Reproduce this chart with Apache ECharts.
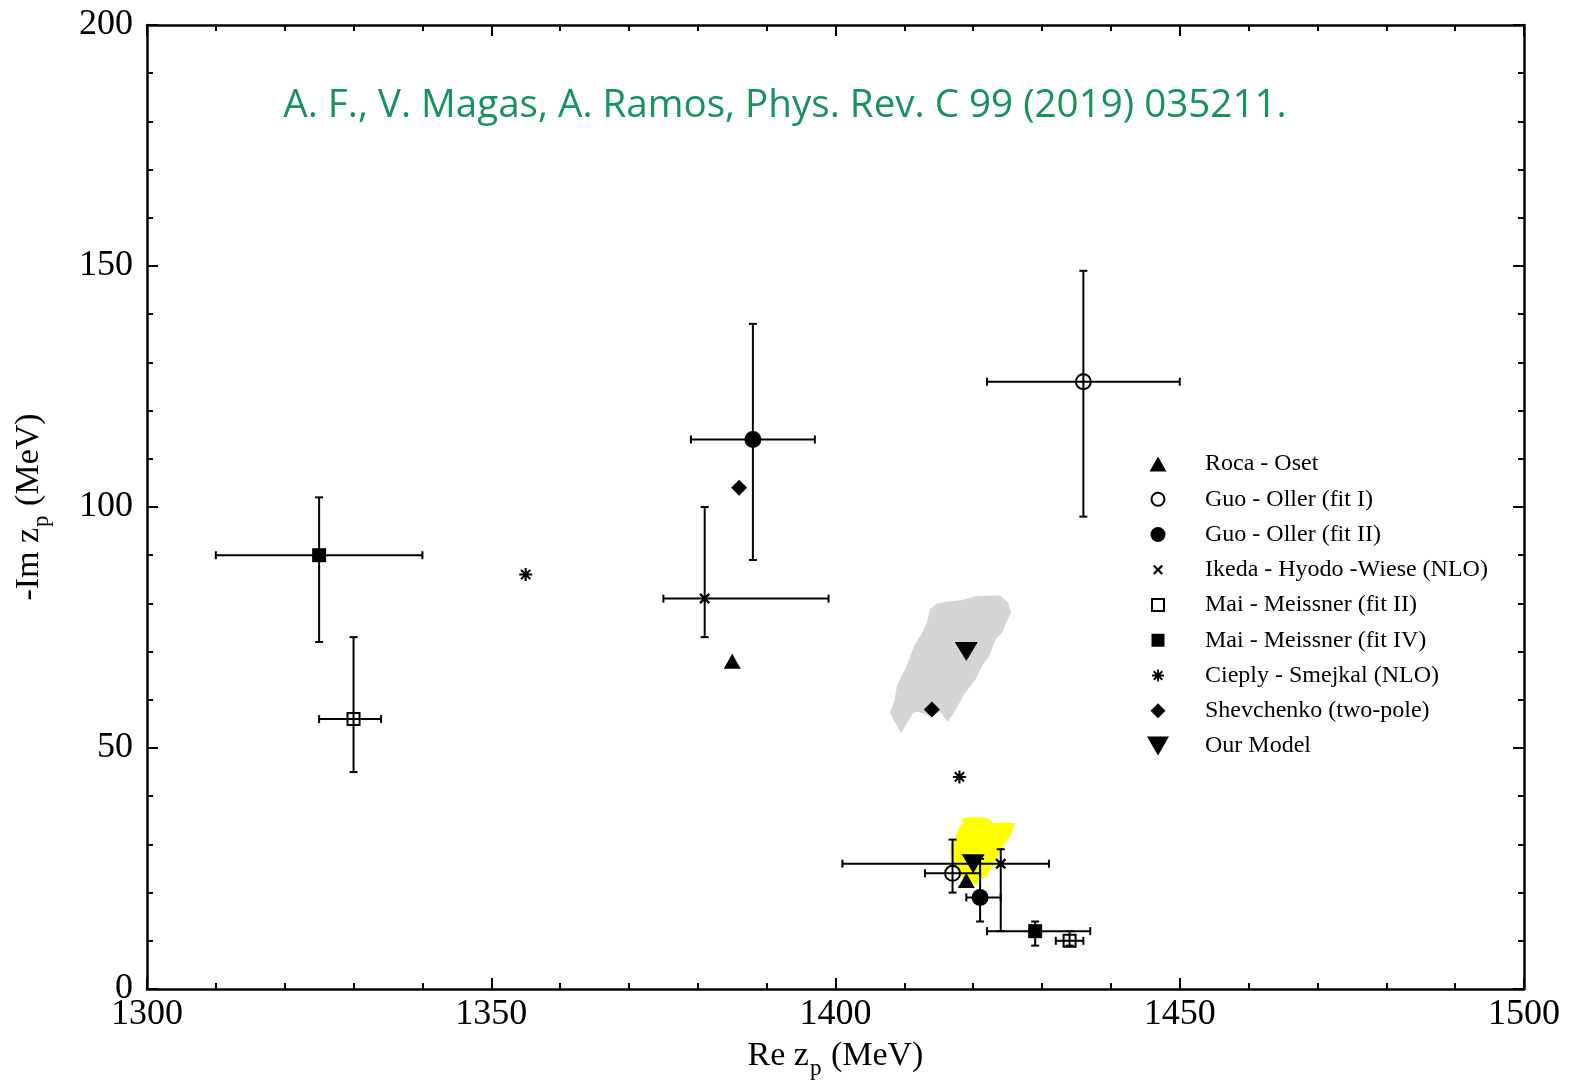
<!DOCTYPE html>
<html>
<head>
<meta charset="utf-8">
<script src="https://cdn.jsdelivr.net/npm/echarts@6/dist/echarts.min.js"></script>
<style>
html, body { margin: 0; padding: 0; background: #fff; }
#chart { width: 1570px; height: 1090px; }
</style>
</head>
<body>
<div id="chart"></div>
<script>
// Pole positions [Re z_p, -Im z_p] in MeV (two poles per model)
const rocaOset = [[1385, 68], [1419, 22.5]];
const guoOllerFit1 = [[1436, 126], [1417, 24]];
const guoOllerFit2 = [[1388, 114], [1421, 19]];
const ikedaHyodoWiese = [[1381, 81], [1424, 26]];
const maiMeissnerFit2 = [[1330, 56], [1434, 10]];
const maiMeissnerFit4 = [[1325, 90], [1429, 12]];
const cieplySmejkal = [[1355, 86], [1418, 44]];
const shevchenko = [[1386, 104], [1414, 58]];
const ourModel = [[1419, 70], [1420, 26]];

// Asymmetric uncertainties [Re minus, Re plus, Im minus, Im plus]
const guoOllerFit1Err = [[14, 14, 28, 23], [4, 4, 4, 7]];
const guoOllerFit2Err = [[9, 9, 25, 24], [2, 3, 5, 8]];
const ikedaHyodoWieseErr = [[6, 18, 8, 19], [23, 7, 14, 3]];
const maiMeissnerFit2Err = [[5, 4, 11, 17], [2, 2, 1, 2]];
const maiMeissnerFit4Err = [[15, 15, 18, 12], [7, 8, 3, 2]];

// Outlines of the pole scatter regions of our model [Re, -Im]
const grayRegion = [
  [1413.7, 78.8], [1414.7, 80.0], [1415.9, 80.3], [1418.5, 80.7], [1420.3, 81.5],
  [1423.9, 81.7], [1425.1, 80.1], [1425.5, 78.0], [1424.8, 76.1], [1424.3, 74.1],
  [1423.2, 72.4], [1422.4, 69.3], [1421.3, 67.0], [1420.3, 64.1], [1418.8, 61.4],
  [1417.6, 58.3], [1416.3, 55.4], [1415.2, 57.5], [1413.7, 56.6], [1412.0, 57.5],
  [1411.3, 57.3], [1409.5, 53.1], [1407.9, 57.3], [1408.6, 60.0], [1408.9, 62.7],
  [1409.5, 64.7], [1410.2, 66.6], [1410.8, 68.9], [1411.5, 71.4], [1412.6, 73.9],
  [1413.3, 76.1]
];
const yellowRegion = [
  [1418.4, 34.4], [1418.5, 35.5], [1420.3, 35.7], [1422.0, 35.5], [1422.9, 34.4],
  [1424.3, 34.6], [1426.1, 34.4], [1425.3, 31.5], [1424.3, 29.7], [1423.9, 28.4],
  [1422.9, 25.5], [1421.7, 23.2], [1420.3, 21.6], [1418.8, 22.2], [1417.8, 24.7],
  [1416.9, 27.2], [1416.6, 29.3], [1417.4, 31.3], [1417.8, 33.0]
];

const xTicks = { min: 1300, max: 1500, step: 50 };
const yTicks = { min: 0, max: 200, step: 50 };

const legendNames = ['Roca - Oset', 'Guo - Oller (fit I)', 'Guo - Oller (fit II)',
  'Ikeda - Hyodo -Wiese (NLO)', 'Mai - Meissner (fit II)', 'Mai - Meissner (fit IV)',
  'Cieply - Smejkal (NLO)', 'Shevchenko (two-pole)', 'Our Model'];

const SERIF = '"Liberation Serif", "DejaVu Serif", serif';

function withErrors(points, errs) {
  return points.map((p, i) => [p[0], p[1]].concat(errs[i]));
}
const errorData = [].concat(
  withErrors(guoOllerFit1, guoOllerFit1Err),
  withErrors(guoOllerFit2, guoOllerFit2Err),
  withErrors(ikedaHyodoWiese, ikedaHyodoWieseErr),
  withErrors(maiMeissnerFit2, maiMeissnerFit2Err),
  withErrors(maiMeissnerFit4, maiMeissnerFit4Err)
);

function renderErrorBar(params, api) {
  const x = api.value(0), y = api.value(1);
  const c = api.coord([x, y]);
  const l = api.coord([x - api.value(2), y]);
  const r = api.coord([x + api.value(3), y]);
  const b = api.coord([x, y - api.value(4)]);
  const t = api.coord([x, y + api.value(5)]);
  const cap = 4;
  const style = { stroke: '#000', lineWidth: 2 };
  const seg = (x1, y1, x2, y2) => ({ type: 'line', shape: { x1, y1, x2, y2 }, style });
  return {
    type: 'group',
    children: [
      seg(l[0], c[1], r[0], c[1]),
      seg(l[0], c[1] - cap, l[0], c[1] + cap),
      seg(r[0], c[1] - cap, r[0], c[1] + cap),
      seg(c[0], b[1], c[0], t[1]),
      seg(c[0] - cap, b[1], c[0] + cap, b[1]),
      seg(c[0] - cap, t[1], c[0] + cap, t[1])
    ]
  };
}

function regionSeries(outline, color) {
  return {
    type: 'custom',
    z: 1,
    silent: true,
    data: [outline[0]],
    renderItem: (params, api) => ({
      type: 'polygon',
      shape: { points: outline.map(p => api.coord(p)) },
      style: { fill: color, stroke: null }
    })
  };
}

const crossPath = 'path://M0,1.6L1.6,0L5,3.4L8.4,0L10,1.6L6.6,5L10,8.4L8.4,10L5,6.6L1.6,10L0,8.4L3.4,5Z';
const starPath = 'path://M4.2,0L5.8,0L5.8,10L4.2,10ZM0,4.2L10,4.2L10,5.8L0,5.8ZM0.9,2L2,0.9L9.1,8L8,9.1ZM8,0.9L9.1,2L2,9.1L0.9,8Z';

// Legend glyphs drawn on a common 22x22 box so each keeps its own size
const BOX = 'M0,0M22,22';
const legendIcons = [
  'path://' + BOX + 'M2.5,18.5L19.5,18.5L11,3.5Z',
  'path://' + BOX + 'M11,4.5A6.5,6.5 0 1,1 11,17.5A6.5,6.5 0 1,1 11,4.5Z',
  'path://' + BOX + 'M11,3.5A7.5,7.5 0 1,1 11,18.5A7.5,7.5 0 1,1 11,3.5Z',
  'path://' + BOX + 'M6,7.6L7.6,6L11,9.4L14.4,6L16,7.6L12.6,11L16,14.4L14.4,16L11,12.6L7.6,16L6,14.4L9.4,11Z',
  'path://' + BOX + 'M5,5L17,5L17,17L5,17Z',
  'path://' + BOX + 'M4.5,4.5L17.5,4.5L17.5,17.5L4.5,17.5Z',
  'path://' + BOX + 'M10.1,5L11.9,5L11.9,17L10.1,17ZM5,10.1L17,10.1L17,11.9L5,11.9ZM6.1,7.4L7.4,6.1L15.9,14.6L14.6,15.9ZM14.6,6.1L15.9,7.4L7.4,15.9L6.1,14.6Z',
  'path://' + BOX + 'M11,3.5L18.5,11L11,18.5L3.5,11Z',
  'path://' + BOX + 'M0,1.5L22,1.5L11,20.5Z'
];

const BLACK = '#000';
const HOLLOW = { color: 'rgba(255,255,255,0)', borderColor: BLACK, borderWidth: 2, opacity: 1 };
const FILLED = { color: BLACK, opacity: 1 };

function scatter(name, data, symbol, size, style, extra) {
  return Object.assign({
    type: 'scatter', name, data, symbol, symbolSize: size, z: 3,
    itemStyle: style, emphasis: { disabled: true }
  }, extra || {});
}

const axisCommon = {
  type: 'value',
  axisLine: { show: true, onZero: false, lineStyle: { color: BLACK, width: 2.5 } },
  axisTick: { show: true, inside: true, length: 11, lineStyle: { color: BLACK, width: 2 } },
  minorTick: { show: true, splitNumber: 5, length: 6, lineStyle: { color: BLACK, width: 2 } },
  splitLine: { show: false },
  minorSplitLine: { show: false }
};

const nameRich = {
  t: { fontFamily: SERIF, fontSize: 34, color: BLACK },
  s: { fontFamily: SERIF, fontSize: 23, color: BLACK, padding: [24, 1, 0, 1] }
};

const chart = echarts.init(document.getElementById('chart'), null, { renderer: 'canvas' });
chart.setOption({
  backgroundColor: '#fff',
  animation: false,
  title: {
    text: 'A. F., V. Magas, A. Ramos, Phys. Rev. C 99 (2019) 035211.',
    left: 'center',
    top: 82,
    textStyle: { fontFamily: '"Open Sans", "Noto Sans", sans-serif', fontWeight: 'normal', fontSize: 38.6, color: '#16935a' }
  },
  grid: { left: 147, right: 46, top: 25, bottom: 101, containLabel: false, outerBoundsMode: 'none' },
  legend: {
    orient: 'vertical',
    left: 1141,
    top: 447,
    itemWidth: 22,
    itemHeight: 22,
    itemGap: 11.25,
    selectedMode: false,
    textStyle: { fontFamily: SERIF, fontSize: 24, color: BLACK, lineHeight: 24, padding: [0, 0, 0, 31] },
    data: legendNames.map((name, i) => ({ name, icon: legendIcons[i] }))
  },
  xAxis: [
    Object.assign({}, axisCommon, {
      position: 'bottom', min: xTicks.min, max: xTicks.max, interval: xTicks.step,
      axisLabel: { fontFamily: SERIF, fontSize: 36, color: BLACK, margin: 8, formatter: v => String(v) },
      name: '{t|Re z}{s|p}{t| (MeV)}',
      nameLocation: 'middle', nameGap: 44,
      nameTextStyle: { rich: nameRich }
    }),
    Object.assign({}, axisCommon, {
      position: 'top', min: xTicks.min, max: xTicks.max, interval: xTicks.step,
      axisLabel: { show: false }
    })
  ],
  yAxis: [
    Object.assign({}, axisCommon, {
      position: 'left', min: yTicks.min, max: yTicks.max, interval: yTicks.step,
      axisLabel: { fontFamily: SERIF, fontSize: 36, color: BLACK, margin: 14, formatter: v => String(v) },
      name: '{t|-Im z}{s|p}{t| (MeV)}',
      nameLocation: 'middle', nameGap: 94, nameRotate: 90,
      nameTextStyle: { rich: nameRich }
    }),
    Object.assign({}, axisCommon, {
      position: 'right', min: yTicks.min, max: yTicks.max, interval: yTicks.step,
      axisLabel: { show: false }
    })
  ],
  series: [
    regionSeries(grayRegion, '#d4d4d4'),
    regionSeries(yellowRegion, '#ffff00'),
    {
      type: 'custom', z: 2, silent: true,
      data: errorData,
      renderItem: renderErrorBar
    },
    scatter(legendNames[0], rocaOset, 'triangle', [17, 15], FILLED),
    scatter(legendNames[1], guoOllerFit1, 'circle', 15, HOLLOW),
    scatter(legendNames[2], guoOllerFit2, 'circle', 17, FILLED),
    scatter(legendNames[3], ikedaHyodoWiese, crossPath, 11, FILLED),
    scatter(legendNames[4], maiMeissnerFit2, 'rect', 12, HOLLOW),
    scatter(legendNames[5], maiMeissnerFit4, 'rect', 14, FILLED),
    scatter(legendNames[6], cieplySmejkal, starPath, 13, FILLED),
    scatter(legendNames[7], shevchenko, 'diamond', 16, FILLED),
    scatter(legendNames[8], ourModel, 'triangle', [23, 19], FILLED, { symbolRotate: 180 })
  ]
});
</script>
</body>
</html>
